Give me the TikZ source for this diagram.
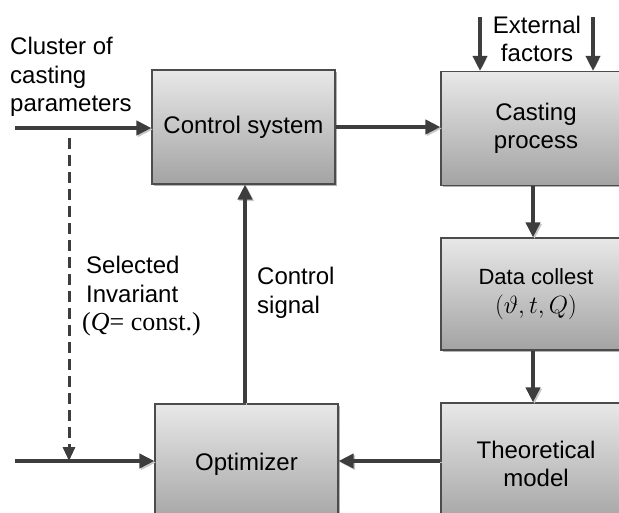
\documentclass[tikz,border=0pt]{standalone}
\usepackage{amsmath}
\usepackage{fontspec}
\setmainfont{Liberation Sans}
\newfontfamily\timesfont{Liberation Serif}
\usetikzlibrary{arrows.meta,shadows}

\tikzset{
  block/.style={draw=black!70, line width=1.1pt, top color=black!9, bottom color=black!36,
    minimum height=114pt, inner sep=0pt, align=center,
    drop shadow={shadow xshift=2pt, shadow yshift=-2pt, opacity=0.3, fill=black}},
  flow/.style={line width=4pt, draw=black!76, -{Triangle[length=15pt,width=14pt]},
    preaction={draw=black!22, transform canvas={shift={(1.5pt,-1.5pt)}}}},
  dflow/.style={line width=3pt, draw=black!76, dash pattern=on 11pt off 6pt,
    -{Triangle[length=14pt,width=12pt]}},
  txt/.style={inner sep=0pt, align=left}
}

\begin{document}
\begin{tikzpicture}[x=1pt, y=-1pt, font=\fontsize{24}{28.5}\selectfont]

\useasboundingbox (0,0) rectangle (619,513);
\clip (0,0) rectangle (619,513);

%blocks
\node[block, minimum width=183pt] (ctrl) at (243.5,127)   {Control system};
\node[block, minimum width=190pt] (cast) at (536,128.5)   {Casting\\process};
\node[block, minimum width=190pt, minimum height=112pt] (data) at (536,294)
  {\fontsize{22}{27}\selectfont Data collest\\$(\vartheta, t, Q)$};
\node[block, minimum width=190pt, minimum height=122pt] (theo) at (536,464) {Theoretical\\model};
\node[block, minimum width=183pt, minimum height=120pt] (opt)  at (246.5,464) {Optimizer};

%free ends
\coordinate (in1) at (15,128);
\coordinate (in2) at (15,461);
\coordinate (dsh) at (69,138);
\coordinate (e1)  at (480,17);
\coordinate (e2)  at (593,17);
\coordinate (sig) at (245,0);
\coordinate (col) at (533,0);
\coordinate (row) at (0,461);

%connectors
\draw [flow]  (in1) -- (in1 -| ctrl.west);
\draw [flow]  (in2) -- (in2 -| opt.west);
\draw [dflow] (dsh) -- (dsh |- in2);
\draw [flow]  (ctrl.east) -- (ctrl.east -| cast.west);
\draw [flow, line width=3.5pt] (e1) -- (e1 |- cast.north);
\draw [flow, line width=3.5pt] (e2) -- (e2 |- cast.north);
\draw [flow]  (col |- cast.south) -- (col |- data.north);
\draw [flow]  (col |- data.south) -- (col |- theo.north);
\draw [flow]  (row -| theo.west) -- (row -| opt.east);
\draw [flow]  (sig |- opt.north) -- (sig |- ctrl.south);

%labels
\node[txt, anchor=north west] (clu) at (10,37)  {Cluster of\\casting\\parameters};
\node[txt, anchor=north, align=center] (ext) at (537,15.5) {External\\factors};
\node[txt, anchor=north west] (inv) at (82,256)
  {\hspace{4pt}Selected\\\hspace{4pt}Invariant\\{\timesfont\fontsize{26}{28.5}\selectfont(\textit{Q}= const.)}};
\node[txt, anchor=north west] (cs)  at (257,267) {Control\\signal};

\end{tikzpicture}
\end{document}
